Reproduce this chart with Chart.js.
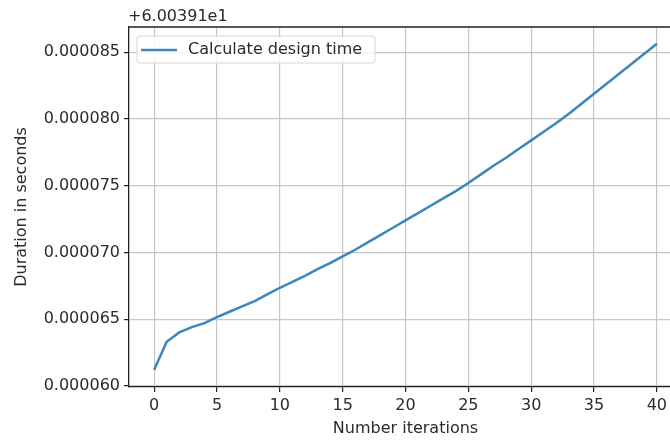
<!DOCTYPE html>
<html>
<head>
<meta charset="utf-8">
<script src="https://cdn.jsdelivr.net/npm/chart.js@4/dist/chart.umd.min.js"></script>
<style>
  html, body { margin: 0; padding: 0; background: #fff; overflow: hidden; }
  #wrap { width: 670px; height: 440px; overflow: hidden; position: relative; }
  #timeChart { position: absolute; left: 0; top: 0; }
</style>
</head>
<body>
<div id="wrap"><canvas id="timeChart" width="700" height="440"></canvas></div>
<script>
// Number of iterations and the measured duration (shown relative to the +6.00391e1 offset)
const iterations = [
    0, 1, 2, 3, 4, 5, 6, 7, 8, 9,
    10, 11, 12, 13, 14, 15, 16, 17, 18, 19,
    20, 21, 22, 23, 24, 25, 26, 27, 28, 29,
    30, 31, 32, 33, 34, 35, 36, 37, 38, 39, 40
];
const durations = [
    0.0000612, 0.0000633, 0.0000640, 0.0000644, 0.0000647, 0.00006515, 0.00006555, 0.00006595, 0.00006635, 0.00006685,
    0.00006735, 0.0000678, 0.00006825, 0.00006875, 0.0000692, 0.0000697, 0.0000702, 0.00007075, 0.0000713, 0.00007185,
    0.0000724, 0.00007295, 0.0000735, 0.00007405, 0.0000746, 0.0000752, 0.00007585, 0.0000765, 0.0000771, 0.00007775,
    0.0000784, 0.00007905, 0.0000797, 0.0000804, 0.00008115, 0.0000819, 0.00008265, 0.0000834, 0.00008415, 0.0000849, 0.00008565
];
const xTicks = [0, 5, 10, 15, 20, 25, 30, 35, 40];
const yTicks = [0.000060, 0.000065, 0.000070, 0.000075, 0.000080, 0.000085];
const offsetText = '+6.00391e1';

const FONT = 'DejaVu Sans';
const TEXT = '#2b2b2b';
const lineColor = '#3d86ba';

// offset label, top spine and framed legend like the original figure
const extras = {
    id: 'extras',
    afterDraw(chart) {
        const ctx = chart.ctx;
        const area = chart.chartArea;
        ctx.save();
        ctx.strokeStyle = '#222';
        ctx.lineWidth = 1.3;
        ctx.beginPath();
        ctx.moveTo(area.left, area.top);
        ctx.lineTo(area.right, area.top);
        ctx.stroke();

        ctx.fillStyle = TEXT;
        ctx.font = '16px ' + FONT;
        ctx.textBaseline = 'middle';
        ctx.textAlign = 'left';
        ctx.fillText(offsetText, area.left - 1, 17);

        // legend box
        const bx = 137, by = 36, bw = 238, bh = 27, r = 3;
        ctx.beginPath();
        ctx.moveTo(bx + r, by);
        ctx.arcTo(bx + bw, by, bx + bw, by + bh, r);
        ctx.arcTo(bx + bw, by + bh, bx, by + bh, r);
        ctx.arcTo(bx, by + bh, bx, by, r);
        ctx.arcTo(bx, by, bx + bw, by, r);
        ctx.closePath();
        ctx.fillStyle = 'rgba(255,255,255,0.85)';
        ctx.fill();
        ctx.strokeStyle = '#d6d6d6';
        ctx.lineWidth = 1;
        ctx.stroke();

        ctx.strokeStyle = lineColor;
        ctx.lineWidth = 2.5;
        ctx.beginPath();
        ctx.moveTo(141, 50);
        ctx.lineTo(177, 50);
        ctx.stroke();

        ctx.fillStyle = TEXT;
        ctx.fillText(chart.data.datasets[0].label, 188, 50);
        ctx.restore();
    }
};

const ctx = document.getElementById('timeChart').getContext('2d');
new Chart(ctx, {
    type: 'line',
    data: {
        datasets: [{
            label: 'Calculate design time',
            data: iterations.map((x, i) => ({ x: x, y: durations[i] })),
            borderColor: lineColor,
            borderWidth: 2.5,
            pointRadius: 0,
            tension: 0,
            fill: false
        }]
    },
    options: {
        responsive: false,
        animation: false,
        layout: { padding: { top: 27, left: 0, right: 18, bottom: 0 } },
        plugins: {
            legend: { display: false },
            tooltip: { enabled: false }
        },
        scales: {
            x: {
                type: 'linear',
                min: -2,
                max: 42,
                afterBuildTicks: scale => { scale.ticks = xTicks.map(v => ({ value: v })); },
                afterFit: scale => { scale.height = 53; },
                grid: { color: '#c6c6c6', lineWidth: 1.2, tickColor: '#222', tickLength: 5, tickWidth: 1.2 },
                border: { color: '#222', width: 1.3 },
                ticks: { color: TEXT, font: { family: FONT, size: 16 }, padding: 4, maxRotation: 0 },
                title: { display: true, text: 'Number iterations', color: TEXT, font: { family: FONT, size: 16 }, padding: { bottom: 2 } }
            },
            y: {
                min: 0.00005991,
                max: 0.0000869,
                afterBuildTicks: scale => { scale.ticks = yTicks.map(v => ({ value: v })); },
                afterFit: scale => { scale.width = 129; },
                grid: { color: '#c6c6c6', lineWidth: 1.2, tickColor: '#222', tickLength: 5, tickWidth: 1.2 },
                border: { color: '#222', width: 1.3 },
                ticks: { color: TEXT, font: { family: FONT, size: 16 }, padding: 4, callback: v => v.toFixed(6) },
                title: { display: true, text: 'Duration in seconds', color: TEXT, font: { family: FONT, size: 16 }, padding: { top: 12 } }
            }
        }
    },
    plugins: [extras]
});
</script>
</body>
</html>
